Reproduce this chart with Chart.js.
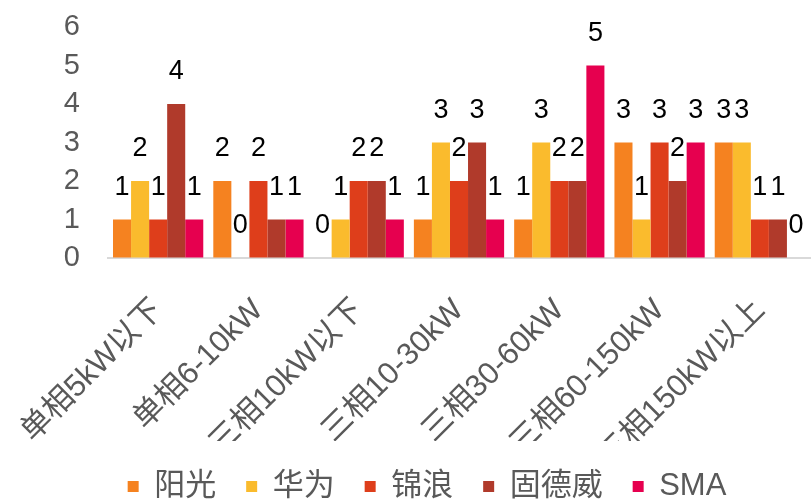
<!DOCTYPE html>
<html>
<head>
<meta charset="utf-8">
<script src="https://cdn.jsdelivr.net/npm/chart.js@4/dist/chart.umd.min.js"></script>
<style>
  html, body { margin: 0; padding: 0; background: #fff; }
  #wrap { position: relative; width: 812px; height: 502px; }
</style>
</head>
<body>
<div id="wrap"><canvas id="chart" width="812" height="502"></canvas></div>
<script>
// categories and series
const categories = ["单相5kW以下", "单相6-10kW", "三相10kW以下", "三相10-30kW", "三相30-60kW", "三相60-150kW", "三相150kW以上"];
const sungrow  = [1, 2, 0, 1, 1, 3, 3]; // 阳光
const huawei   = [2, 0, 1, 3, 3, 1, 3]; // 华为
const ginlong  = [1, 2, 2, 2, 2, 3, 1]; // 锦浪
const goodwe   = [4, 1, 2, 3, 2, 2, 1]; // 固德威
const sma      = [1, 1, 1, 1, 5, 3, 0]; // SMA
const seriesNames = ["阳光", "华为", "锦浪", "固德威", "SMA"];
const yTicks = [0, 1, 2, 3, 4, 5, 6];

const colors = ["#F58220", "#FABB2D", "#DE3E1B", "#B03A2B", "#E6004F"];
const fontFam = "'Liberation Sans', Arial, 'Noto Sans CJK SC', sans-serif";
const grey = "#595959";

// numbers above every bar
const barLabels = {
    id: "barLabels",
    afterDatasetsDraw(chart) {
        const ctx = chart.ctx;
        ctx.save();
        ctx.font = "27px " + fontFam;
        ctx.fillStyle = "#000";
        ctx.textAlign = "center";
        ctx.textBaseline = "middle";
        chart.data.datasets.forEach((ds, i) => {
            chart.getDatasetMeta(i).data.forEach((bar, j) => {
                ctx.fillText(String(ds.data[j]), bar.x, bar.y - 32);
            });
        });
        ctx.restore();
    }
};

let allSeries = [sungrow, huawei, ginlong, goodwe, sma];
let ctx = document.getElementById("chart").getContext("2d");
let chart = new Chart(ctx, {
    type: "bar",
    data: {
        labels: categories,
        datasets: allSeries.map((d, i) => ({
            label: seriesNames[i],
            data: d,
            backgroundColor: colors[i],
            borderWidth: 0,
            categoryPercentage: 0.9,
            barPercentage: 1.0
        }))
    },
    options: {
        responsive: false,
        animation: false,
        layout: { padding: { left: 44, right: 2, top: 27, bottom: -10 } },
        plugins: {
            tooltip: { enabled: false },
            legend: {
                position: "bottom",
                labels: {
                    boxWidth: 11,
                    boxHeight: 11,
                    padding: 30,
                    color: grey,
                    font: { family: fontFam, size: 31 }
                }
            }
        },
        scales: {
            x: {
                grid: { display: false },
                border: { display: true, color: "#D9D9D9", width: 2 },
                ticks: {
                    color: grey,
                    font: { family: fontFam, size: 31 },
                    minRotation: 45,
                    maxRotation: 45,
                    autoSkip: false,
                    padding: 26
                },
                afterFit: (s) => {
                    s.height = 183;
                    // long rotated labels may run under the y axis, as in the original
                    s.paddingLeft = 0;
                    s.paddingRight = 0;
                }
            },
            y: {
                min: 0,
                max: 6,
                // invisible tick marks only push the labels away from the bars
                grid: { display: true, drawOnChartArea: false, drawTicks: true, tickLength: 28, color: "rgba(0,0,0,0)" },
                border: { display: false },
                afterBuildTicks: (s) => { s.ticks = yTicks.map(v => ({ value: v })); },
                ticks: {
                    color: grey,
                    font: { family: fontFam, size: 29 },
                    padding: 0,
                    autoSkip: false
                },
                afterFit: (s) => { s.width = 64; }
            }
        }
    },
    plugins: [barLabels]
});
</script>
</body>
</html>
